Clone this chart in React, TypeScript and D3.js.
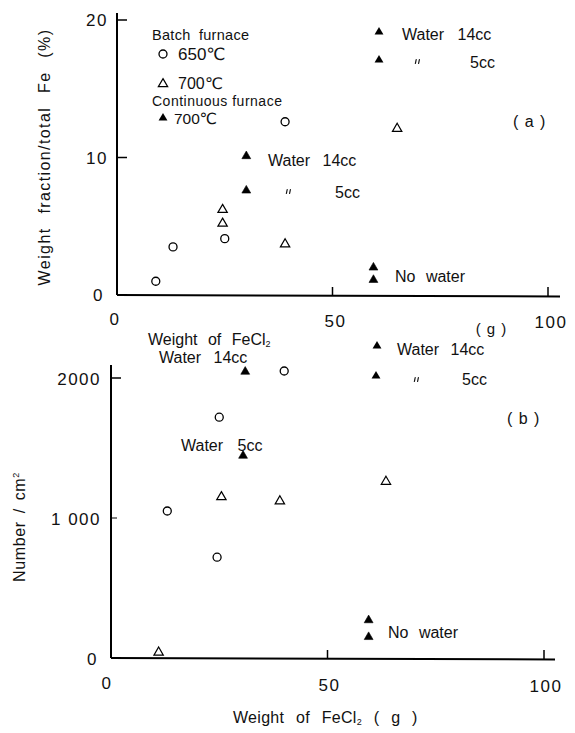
import React from 'react'
import * as d3 from 'd3'

// (a) weight fraction / total Fe (%) vs weight of FeCl2 (g)
const batch650A_x = [9, 13, 25, 39]
const batch650A_y = [1.0, 3.5, 4.1, 12.6]
const batch700A_x = [24.5, 24.5, 39, 65]
const batch700A_y = [6.2, 5.2, 3.7, 12.1]
const contA_x = [30, 30, 59.5, 59.5]
const contA_y = [10.1, 7.6, 2.0, 1.1]

// (b) number / cm2 vs weight of FeCl2 (g)
const batch650B_x = [40, 25, 13, 24.5]
const batch650B_y = [2050, 1720, 1050, 720]
const batch700B_x = [25.5, 39, 63.5, 11]
const batch700B_y = [1150, 1120, 1260, 40]
const contB_x = [31, 30.5, 59.5, 59.5]
const contB_y = [2045, 1445, 270, 150]

const xTicks = [0, 50, 100]
const yTicksA = [0, 10, 20]
const yTicksB = [0, 1000, 2000]
const yTickLabelsB = ['0', '1 000', '2000']

const FONT = "'Liberation Sans', 'DejaVu Sans', sans-serif"

const triOpen = d3.symbol().type(d3.symbolTriangle).size(38)
const triFill = d3.symbol().type(d3.symbolTriangle).size(34)

function zip(xs: number[], ys: number[]) {
    return xs.map((x, i) => ({ x, y: ys[i] }))
}

function Markers({ xs, ys, kind, x, y }: any) {
    return (
        <g>
            {zip(xs, ys).map((d, i) => {
                if (kind === 'circle') {
                    return <circle key={i} cx={x(d.x)} cy={y(d.y)} r={4} fill="white" stroke="black" strokeWidth={1.3} />
                }
                const filled = kind === 'tri-fill'
                return (
                    <path key={i}
                        d={(filled ? triFill : triOpen)() as string}
                        transform={`translate(${x(d.x)},${y(d.y)})`}
                        fill={filled ? 'black' : 'white'}
                        stroke="black" strokeWidth={filled ? 0.6 : 1.2} />
                )
            })}
        </g>
    )
}

// small ditto mark (two short strokes)
function Ditto({ cx, cy }: { cx: number, cy: number }) {
    return (
        <g stroke="#111" strokeWidth={1.2} strokeLinecap="round">
            <line x1={cx - 1.8} y1={cy - 2.5} x2={cx - 2.6} y2={cy + 1.5} />
            <line x1={cx + 1.4} y1={cy - 2.5} x2={cx + 0.6} y2={cy + 1.5} />
        </g>
    )
}

export default function App() {
    // panel (a)
    const xA = d3.scaleLinear().domain([0, 100]).range([117, 548])
    const yA = d3.scaleLinear().domain([0, 20]).range([295, 20])
    // panel (b)
    const xB = d3.scaleLinear().domain([0, 100]).range([111, 544])
    const yB = d3.scaleLinear().domain([0, 2000]).range([658, 378])

    const txt = { fontFamily: FONT, fill: '#111' }

    return (
        <svg width={575} height={733} style={{ position: 'absolute', left: 0, top: 0, background: 'white' }}>
            <rect width={575} height={733} fill="white" />

            {/* ---------- panel (a) ---------- */}
            <g stroke="black" fill="none">
                <line x1={xA(0)} y1={13} x2={xA(0)} y2={yA(0)} strokeWidth={2} />
                <line x1={xA(0)} y1={yA(0)} x2={560} y2={yA(0) + 1.5} strokeWidth={2} />
                {yTicksA.filter(t => t > 0).map(t =>
                    <line key={t} x1={xA(0)} x2={xA(0) + 10} y1={yA(t)} y2={yA(t)} strokeWidth={1.5} />)}
                {xTicks.filter(t => t > 0).map(t =>
                    <line key={t} x1={xA(t)} x2={xA(t)} y1={yA(0) + t * 0.015} y2={yA(0) - 8} strokeWidth={1.5} />)}
            </g>
            <g {...txt} fontSize={17} letterSpacing={1.5}>
                {yTicksA.map(t =>
                    <text key={t} x={xA(0) - (t === 0 ? 13 : 9)} y={yA(t) + 6} textAnchor="end">{t}</text>)}
                {xTicks.map(t =>
                    <text key={t} x={xA(t) + (t === 0 ? -2 : 3)} y={325 + t * 0.03} textAnchor="middle">{t}</text>)}
            </g>
            <text {...txt} fontSize={15} x={491} y={334} textAnchor="middle" wordSpacing={2}>( g )</text>
            <text {...txt} fontSize={16} transform="translate(50,157) rotate(-90)" textAnchor="middle" letterSpacing={1.4} wordSpacing={8}>
                Weight fraction/total Fe (%)
            </text>

            {/* legend (a) */}
            <g {...txt} fontSize={14.5}>
                <text x={152} y={40} wordSpacing={4} letterSpacing={0.3}>Batch furnace</text>
                <text x={178} y={60} fontSize={17}>650℃</text>
                <text x={178} y={89} fontSize={16}>700℃</text>
                <text x={152} y={106} fontSize={14} letterSpacing={0.5}>Continuous furnace</text>
                <text x={174} y={124} fontSize={15.5}>700℃</text>
            </g>
            <circle cx={163} cy={54} r={4} fill="white" stroke="black" strokeWidth={1.3} />
            <path d={triOpen() as string} transform="translate(163,84)" fill="white" stroke="black" strokeWidth={1.2} />
            <path d={triFill() as string} transform="translate(163,118)" fill="black" />

            <g {...txt} fontSize={16}>
                <path d={triFill() as string} transform="translate(379,32)" fill="black" />
                <text x={402} y={40} wordSpacing={9}>Water 14cc</text>
                <path d={triFill() as string} transform="translate(379,60)" fill="black" />
                <text x={470} y={68}>5cc</text>
                <text x={513} y={127} wordSpacing={2}>( a )</text>

                <text x={268} y={166} wordSpacing={8}>Water 14cc</text>
                <text x={335} y={198}>5cc</text>
                <text x={395} y={282} wordSpacing={6}>No water</text>
            </g>
            <Ditto cx={418} cy={62} />
            <Ditto cx={289} cy={192} />

            <Markers xs={batch650A_x} ys={batch650A_y} kind="circle" x={xA} y={yA} />
            <Markers xs={batch700A_x} ys={batch700A_y} kind="tri-open" x={xA} y={yA} />
            <Markers xs={contA_x} ys={contA_y} kind="tri-fill" x={xA} y={yA} />

            <text {...txt} fontSize={16} x={148} y={345} wordSpacing={6}>
                Weight of FeCl<tspan fontSize={9} dy={2}>2</tspan>
            </text>

            {/* ---------- panel (b) ---------- */}
            <g stroke="black" fill="none">
                <line x1={xB(0)} y1={365} x2={xB(0)} y2={yB(0)} strokeWidth={2} />
                <line x1={xB(0)} y1={yB(0)} x2={555} y2={yB(0) + 1.5} strokeWidth={2} />
                <line x1={xB(0)} x2={xB(0) + 10} y1={yB(2000)} y2={yB(2000)} strokeWidth={1.5} />
                <line x1={xB(0)} x2={xB(0) + 6} y1={yB(1000)} y2={yB(1000)} strokeWidth={1} />
                {xTicks.filter(t => t > 0).map(t =>
                    <line key={t} x1={xB(t)} x2={xB(t)} y1={yB(0) + t * 0.015} y2={yB(0) - 8} strokeWidth={1.5} />)}
            </g>
            <g {...txt} fontSize={17} letterSpacing={1.5}>
                {yTicksB.map((t, i) =>
                    <text key={t} x={xB(0) - (t === 0 ? 13 : 10)} y={yB(t) + 7} textAnchor="end">{yTickLabelsB[i]}</text>)}
                {xTicks.map(t =>
                    <text key={t} x={xB(t) + (t === 0 ? -4 : 2)} y={689 + t * 0.03} textAnchor="middle">{t}</text>)}
            </g>
            <text {...txt} fontSize={16} x={233} y={723} wordSpacing={7} letterSpacing={0.3}>
                Weight of FeCl<tspan fontSize={9} dy={2}>2</tspan><tspan dy={-2}> ( g )</tspan>
            </text>
            <text {...txt} fontSize={16} transform="translate(25,527) rotate(-90)" textAnchor="middle" letterSpacing={0.6} wordSpacing={3}>
                Number / cm<tspan fontSize={9} dy={-6}>2</tspan>
            </text>

            <g {...txt} fontSize={16}>
                <text x={159} y={363} wordSpacing={8}>Water 14cc</text>
                <text x={181} y={451} wordSpacing={10}>Water 5cc</text>
                <path d={triFill() as string} transform="translate(377,346)" fill="black" />
                <text x={397} y={355} wordSpacing={7}>Water 14cc</text>
                <path d={triFill() as string} transform="translate(376,376)" fill="black" />
                <text x={462} y={385}>5cc</text>
                <text x={507} y={424} wordSpacing={2}>( b )</text>
                <text x={388} y={638} wordSpacing={6}>No water</text>
            </g>
            <Ditto cx={417} cy={380} />

            <Markers xs={batch650B_x} ys={batch650B_y} kind="circle" x={xB} y={yB} />
            <Markers xs={batch700B_x} ys={batch700B_y} kind="tri-open" x={xB} y={yB} />
            <Markers xs={contB_x} ys={contB_y} kind="tri-fill" x={xB} y={yB} />
        </svg>
    )
}
